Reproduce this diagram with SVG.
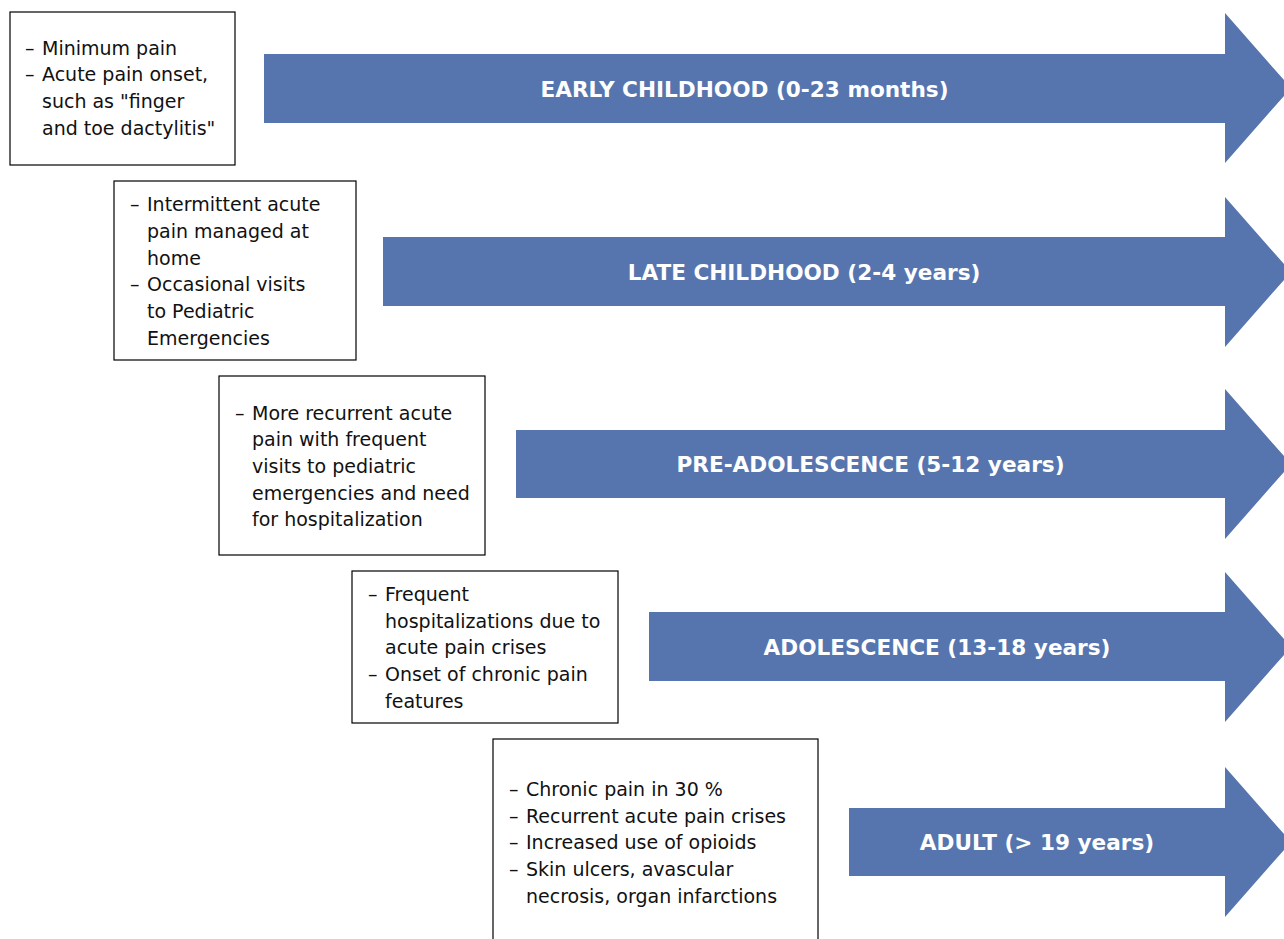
<svg xmlns="http://www.w3.org/2000/svg" width="1284" height="939" viewBox="0 0 1284 939">
<style>
.box{fill:#fff;stroke:#000;stroke-width:1.2}
.arr{fill:#5675ae}
.t{font-family:"DejaVu Sans",sans-serif;font-size:19px;fill:#111}
.lbl{font-family:"DejaVu Sans",sans-serif;font-size:21.6px;font-weight:bold;fill:#fff;text-anchor:middle}
</style>
<rect width="1284" height="939" fill="#fff"/>
<g id="connectors">
<path class="arr" d="M264,54 H1225 V13 L1291,88 L1225,163 V123 H264 Z"/>
<path class="arr" d="M383,237 H1225 V197 L1291,272 L1225,347 V306 H383 Z"/>
<path class="arr" d="M516,430 H1225 V389 L1291,464 L1225,539 V498 H516 Z"/>
<path class="arr" d="M649,612 H1225 V572 L1291,647 L1225,722 V681 H649 Z"/>
<path class="arr" d="M849,808 H1225 V767 L1291,842 L1225,917 V876 H849 Z"/>
</g>
<g id="label-early"><text class="lbl" x="744.5" y="96.5">EARLY CHILDHOOD (0-23 months)</text></g>
<g id="label-late"><text class="lbl" x="804" y="280">LATE CHILDHOOD (2-4 years)</text></g>
<g id="label-pre"><text class="lbl" x="870.5" y="472">PRE-ADOLESCENCE (5-12 years)</text></g>
<g id="label-adol"><text class="lbl" x="937" y="655">ADOLESCENCE (13-18 years)</text></g>
<g id="label-adult"><text class="lbl" x="1037" y="850">ADULT (&gt; 19 years)</text></g>
<g id="box1">
<rect class="box" x="10" y="12" width="225" height="153"/>
<text class="t" x="25" y="55">–</text><text class="t" x="42" y="55">Minimum pain</text>
<text class="t" x="25" y="81">–</text><text class="t" x="42" y="81">Acute pain onset,</text>
<text class="t" x="42" y="108">such as "finger</text>
<text class="t" x="42" y="135">and toe dactylitis"</text>
</g>
<g id="box2">
<rect class="box" x="114" y="181" width="242" height="179"/>
<text class="t" x="130" y="211">–</text><text class="t" x="147" y="211">Intermittent acute</text>
<text class="t" x="147" y="238">pain managed at</text>
<text class="t" x="147" y="265">home</text>
<text class="t" x="130" y="291">–</text><text class="t" x="147" y="291">Occasional visits</text>
<text class="t" x="147" y="318">to Pediatric</text>
<text class="t" x="147" y="345">Emergencies</text>
</g>
<g id="box3">
<rect class="box" x="219" y="376" width="266" height="179"/>
<text class="t" x="235" y="420">–</text><text class="t" x="252" y="420">More recurrent acute</text>
<text class="t" x="252" y="446">pain with frequent</text>
<text class="t" x="252" y="473">visits to pediatric</text>
<text class="t" x="252" y="500">emergencies and need</text>
<text class="t" x="252" y="526">for hospitalization</text>
</g>
<g id="box4">
<rect class="box" x="352" y="571" width="266" height="152"/>
<text class="t" x="368" y="601">–</text><text class="t" x="385" y="601">Frequent</text>
<text class="t" x="385" y="628">hospitalizations due to</text>
<text class="t" x="385" y="654">acute pain crises</text>
<text class="t" x="368" y="681">–</text><text class="t" x="385" y="681">Onset of chronic pain</text>
<text class="t" x="385" y="708">features</text>
</g>
<g id="box5">
<rect class="box" x="493" y="739" width="325" height="210"/>
<text class="t" x="509" y="796">–</text><text class="t" x="526" y="796">Chronic pain in 30 %</text>
<text class="t" x="509" y="823">–</text><text class="t" x="526" y="823">Recurrent acute pain crises</text>
<text class="t" x="509" y="849">–</text><text class="t" x="526" y="849">Increased use of opioids</text>
<text class="t" x="509" y="876">–</text><text class="t" x="526" y="876">Skin ulcers, avascular</text>
<text class="t" x="526" y="903">necrosis, organ infarctions</text>
</g>
</svg>
